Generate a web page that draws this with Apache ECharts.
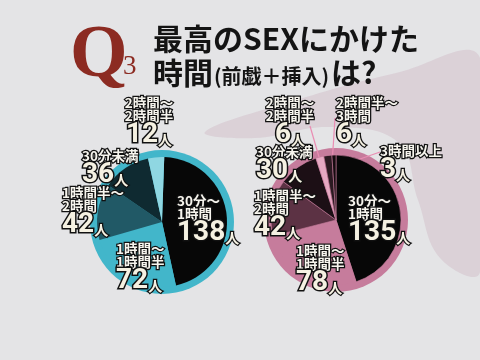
<!DOCTYPE html>
<html><head><meta charset="utf-8">
<script src="https://cdn.jsdelivr.net/npm/echarts@6/dist/echarts.min.js"></script>
<style>html,body{margin:0;padding:0;background:#e4e4e6}#c{width:480px;height:360px}</style>
</head><body><div id="c"></div>
<script>
// ---- data ----
const categoriesLeft = ['30分〜\n1時間', '1時間〜\n1時間半', '1時間半〜\n2時間', '30分未満', '2時間〜\n2時間半'];
const valuesLeft = [138, 72, 42, 36, 12];
const categoriesRight = ['30分〜\n1時間', '1時間〜\n1時間半', '1時間半〜\n2時間', '30分未満', '2時間〜\n2時間半', '2時間半〜\n3時間', '3時間以上'];
const valuesRight = [135, 78, 42, 30, 6, 6, 3];
const unit = '人';

// ---- styles ----
const colorsLeft = ['#070707', '#42b6ca', '#215966', '#0f2a31', '#8fd7e2'];
const colorsRight = ['#070707', '#c67c9c', '#5c3244', '#1c0f15', '#e6a9c2', '#2b1a21', '#150b0f'];
const ringLeft = '#42b6ca', ringRight = '#c67c9c';
const centerL = [162, 222], centerR = [336, 220];
const pieR = 65, ringR = 72;
// label boxes [x, y, align]
const layoutL = [[177, 194, 'left'], [116, 242, 'left'], [62, 186, 'left'], [82, 149, 'left'], [149, 96, 'center']];
const layoutR = [[348, 194, 'left'], [296, 244, 'left'], [254, 189, 'left'], [256, 145, 'left'], [290, 96, 'center'], [336, 96, 'left'], [380, 144, 'left']];
const lineStartR = {4: [310, 126], 5: [335, 118], 6: [380, 152]};
const lineRadR = {4: 40, 5: 40, 6: 52};

const rich = {
  s: {fontSize: 13.5, fontWeight: 'bold', color: '#f7f5ee', textBorderColor: '#111', textBorderWidth: 2.5, lineHeight: 13, fontFamily: '"Noto Sans CJK JP"'},
  n: {fontSize: 28, fontWeight: 'bold', color: '#f5f1e2', textBorderColor: '#111', textBorderWidth: 3, lineHeight: 25, fontFamily: 'Roboto'},
  u: {fontSize: 14, fontWeight: 'bold', color: '#f5f1e2', textBorderColor: '#111', textBorderWidth: 2.5, lineHeight: 25, fontFamily: '"Noto Sans CJK JP"', verticalAlign: 'bottom'}
};
function fmt(p) {
  return p.name.split('\n').map(t => '{s|' + t + '}').join('\n') + '\n{n|' + p.value + '}{u|' + unit + '}';
}
function midPoint(vals, idx, c, r) {
  const total = vals.reduce((a, b) => a + b, 0);
  const acc = vals.slice(0, idx).reduce((a, b) => a + b, 0) + vals[idx] / 2;
  const a = acc / total * 2 * Math.PI;
  return [c[0] + r * Math.sin(a), c[1] - r * Math.cos(a)];
}
function buildData(names, vals, colors, withLines) {
  return vals.map((v, i) => ({
    name: names[i], value: v,
    itemStyle: {color: colors[i]},
    labelLine: {show: !!(withLines && lineStartR[i]), lineStyle: {color: '#ea8db3', width: 1.2}}
  }));
}
function ring(c, color) {
  return {type: 'pie', silent: true, center: c, radius: ringR, z: 1, label: {show: false}, labelLine: {show: false},
    data: [{value: 1, itemStyle: {color: color}}]};
}
const chart = echarts.init(document.getElementById('c'), null, {renderer: 'canvas'});
chart.setOption({
  backgroundColor: '#e4e4e6',
  animation: false,
  graphic: [
    {type: 'polygon', z: -10, shape: {smooth: 0.4, points: [[205, 132], [290, 102], [400, 72], [480, 58], [480, 272], [440, 258], [418, 200], [398, 142], [330, 127], [255, 138]]},
      style: {fill: 'rgba(175,120,150,0.18)'}},
    {type: 'text', left: 70, top: 20, style: {text: 'Q', font: 'bold 74px "Liberation Serif"', fill: '#8c2b22'}},
    {type: 'text', left: 123, top: 53, style: {text: '3', font: '27px "Liberation Serif"', fill: '#8c2b22'}},
    {type: 'text', left: 153, top: 24, style: {text: '最高のSEXにかけた', font: 'bold 30px "Noto Sans CJK JP"', fill: '#141414'}},
    {type: 'text', left: 153, top: 58, style: {
      text: '{a|時間}{b|(前戯＋挿入)}{a|は?}',
      rich: {a: {font: 'bold 30px "Noto Sans CJK JP"', fill: '#141414', color: '#141414'}, b: {font: 'bold 20px "Noto Sans CJK JP"', color: '#141414', fill: '#141414', verticalAlign: 'bottom', padding: [0, 2, 2, 1]}}
    }}
  ],
  series: [
    ring(centerL, ringLeft),
    ring(centerR, ringRight),
    {
      type: 'pie', center: centerL, radius: pieR, startAngle: 88, clockwise: true, z: 2,
      avoidLabelOverlap: false,
      itemStyle: {borderWidth: 0},
      label: {show: true, position: 'outside', formatter: fmt, rich: rich},
      labelLayout: p => ({x: layoutL[p.dataIndex][0], y: layoutL[p.dataIndex][1], align: layoutL[p.dataIndex][2], verticalAlign: 'top', hideOverlap: false}),
      data: buildData(categoriesLeft, valuesLeft, colorsLeft, false)
    },
    {
      type: 'pie', center: centerR, radius: pieR, startAngle: 90, clockwise: true, z: 2,
      avoidLabelOverlap: false,
      itemStyle: {borderWidth: 0.6, borderColor: '#c67c9c'},
      label: {show: true, position: 'outside', formatter: fmt, rich: rich},
      labelLine: {show: false},
      labelLayout: p => {
        const i = p.dataIndex;
        const o = {x: layoutR[i][0], y: layoutR[i][1], align: layoutR[i][2], verticalAlign: 'top', hideOverlap: false};
        if (lineStartR[i]) o.labelLinePoints = [lineStartR[i], midPoint(valuesRight, i, centerR, lineRadR[i]), midPoint(valuesRight, i, centerR, lineRadR[i])];
        return o;
      },
      data: buildData(categoriesRight, valuesRight, colorsRight, true)
    }
  ]
});
</script></body></html>
